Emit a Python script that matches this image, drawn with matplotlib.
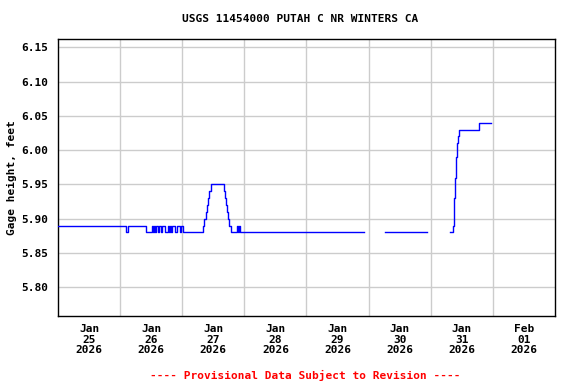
import numpy as np
import matplotlib
matplotlib.use("Agg")
import matplotlib.pyplot as plt
import matplotlib.dates as mdates

# gage height readings: hours after 2026-01-25 00:00 where the value changes
# (nan marks the end of a stretch before a gap in the record)
hours = [0.0, 26.3, 27.1, 34.1, 36.4, 36.8, 37.2, 37.5, 37.9, 38.7, 39.1,
         39.9, 40.3, 41.4, 42.6, 43.0, 43.4, 43.7, 44.1, 45.3, 46.1, 47.2,
         47.6, 48.4, 56.1, 56.5, 57.1, 57.7, 58.1, 58.5, 59.2, 64.1, 64.5,
         64.9, 65.2, 65.6, 66.0, 66.8, 69.1, 69.7, 70.1, 70.3, 118.1,
         126.2, 142.5,
         151.4, 152.6, 153.0, 153.4, 153.8, 154.2, 154.5, 154.9, 162.7, 167.2]
gage = [5.89, 5.88, 5.89, 5.88, 5.89, 5.88, 5.89, 5.88, 5.89, 5.88, 5.89,
        5.88, 5.89, 5.88, 5.89, 5.88, 5.89, 5.88, 5.89, 5.88, 5.89, 5.88,
        5.89, 5.88, 5.89, 5.90, 5.91, 5.92, 5.93, 5.94, 5.95, 5.94, 5.93,
        5.92, 5.91, 5.90, 5.89, 5.88, 5.89, 5.88, 5.89, 5.88, np.nan,
        5.88, np.nan,
        5.88, 5.89, 5.93, 5.96, 5.99, 6.01, 6.02, 6.03, 6.04, 6.04]

start = np.datetime64("2026-01-25T00:00")
days = [start + np.timedelta64(d, "D") for d in range(9)]
times = [start + np.timedelta64(int(round(h * 60)), "m") for h in hours]
yticks = [5.80, 5.85, 5.90, 5.95, 6.00, 6.05, 6.10, 6.15]

mono = "DejaVu Sans Mono"
fig = plt.figure(figsize=(5.76, 3.84), dpi=100)
ax = fig.add_axes([0.1007, 0.177, 0.8628, 0.7214])

ax.plot(times, gage, color="#0000ff", lw=1, drawstyle="steps-post", zorder=3)

ax.set_xlim(days[0], days[8])
ax.set_ylim(5.758, 6.162)

noon = [d + np.timedelta64(12, "h") for d in days[:8]]
ax.set_xticks(noon)
ax.set_xticklabels([mdates.num2date(mdates.date2num(t)).strftime("%b\n%d\n%Y") for t in noon],
                   fontfamily=mono, fontweight="bold", fontsize=8, linespacing=1.05)
ax.set_xticks(days[1:8], minor=True)
ax.set_yticks(yticks)
ax.set_yticklabels(["%.2f" % v for v in yticks], fontfamily=mono, fontweight="bold", fontsize=8)
ax.tick_params(axis="both", which="both", length=0)
ax.tick_params(axis="x", pad=6)
ax.tick_params(axis="y", pad=7)

ax.grid(axis="x", which="minor", color="#cccccc", lw=1, zorder=0)
ax.grid(axis="y", which="major", color="#cccccc", lw=1, zorder=0)
for s in ax.spines.values():
    s.set_linewidth(1)

ax.set_ylabel("Gage height, feet", fontfamily=mono, fontweight="bold", fontsize=8, labelpad=3)
fig.text(0.521, 0.95, "USGS 11454000 PUTAH C NR WINTERS CA", ha="center", va="center",
         fontfamily=mono, fontweight="bold", fontsize=8)
fig.text(0.53, 0.023, "---- Provisional Data Subject to Revision ----", ha="center", va="center",
         color="#ff0000", fontfamily=mono, fontweight="bold", fontsize=8)

fig.savefig("out.png", dpi=100)
